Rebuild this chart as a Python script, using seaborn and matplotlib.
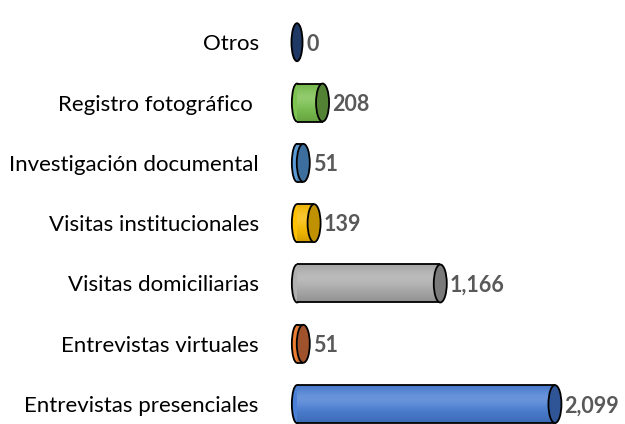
import numpy as np
import pandas as pd
import matplotlib
matplotlib.use("Agg")
import matplotlib.pyplot as plt
import matplotlib.colors as mcolors
from matplotlib.patches import Ellipse
import seaborn as sns

categories = ["Otros", "Registro fotográfico ", "Investigación documental",
              "Visitas institucionales", "Visitas domiciliarias",
              "Entrevistas virtuales", "Entrevistas presenciales"]
values = [0, 208, 51, 139, 1166, 51, 2099]
value_labels = ["0", "208", "51", "139", "1,166", "51", "2,099"]
body_colors = ["#1F3864", "#7CC44F", "#5B9BD5", "#FFC000", "#B0B0B0", "#ED7D31", "#4A80D8"]
cap_colors = ["#1F3864", "#548235", "#3C6E9E", "#BF9000", "#7A7A7A", "#A0522D", "#2F5597"]

sns.set_theme(style="white")
plt.rcParams["font.family"] = ["Lato", "DejaVu Sans"]

df = pd.DataFrame({"category": categories, "value": values})

fig = plt.figure(figsize=(6.25, 4.24), dpi=100)
ax = fig.add_axes([0.4752, 0.0, 0.51, 1.0])
sns.barplot(data=df, x="value", y="category", hue="category", palette=body_colors,
            legend=False, width=0.63, orient="h", ax=ax, edgecolor="none", linewidth=0)

XMAX = 2594
left_cap_w = 84
cap_w = 106
lw = 1.3
for i, p in enumerate(ax.patches[:len(values)]):
    y = p.get_y()
    h = p.get_height()
    v = p.get_width()
    yc = y + h / 2
    base = np.array(mcolors.to_rgb(body_colors[i]))
    t = np.linspace(0, 1, 60)
    light = 0.18 * np.exp(-((t - 0.35) / 0.25) ** 2)
    dark = 0.18 * t ** 3 + 0.08 * (1 - t) ** 4
    grad = base[None, :] * (1 - dark[:, None]) + (1 - base[None, :]) * light[:, None]
    grad = np.clip(grad, 0, 1)[:, None, :]
    if v > 0:
        ax.imshow(grad, extent=[0, v, y + h, y], aspect="auto", origin="upper",
                  zorder=1.1, interpolation="bilinear")
        ax.plot([0, v], [y, y], color="black", lw=lw, zorder=1.2, solid_capstyle="butt")
        ax.plot([0, v], [y + h, y + h], color="black", lw=lw, zorder=1.2, solid_capstyle="butt")
        ax.add_patch(Ellipse((0, yc), left_cap_w, h, facecolor=body_colors[i],
                             edgecolor="black", lw=lw, zorder=0.9, clip_on=False))
    ax.add_patch(Ellipse((v, yc), cap_w if v > 0 else cap_w * 0.85, h,
                         facecolor=cap_colors[i], edgecolor="black",
                         lw=lw, zorder=1.3, clip_on=False))
    ax.text(v + 78, yc + 0.03, value_labels[i], va="center", ha="left", fontsize=15.5,
            fontweight="bold", color="#595959")

ax.set_xlim(0, XMAX)
ax.set_ylim(6.33, -0.70)
for s in ax.spines.values():
    s.set_visible(False)
ax.set_xticks([])
ax.set_xlabel("")
ax.set_ylabel("")
ax.tick_params(axis="y", length=0, pad=27.5, labelsize=16, labelcolor="black")
ax.patch.set_alpha(0)

fig.savefig("out.png", dpi=100)
